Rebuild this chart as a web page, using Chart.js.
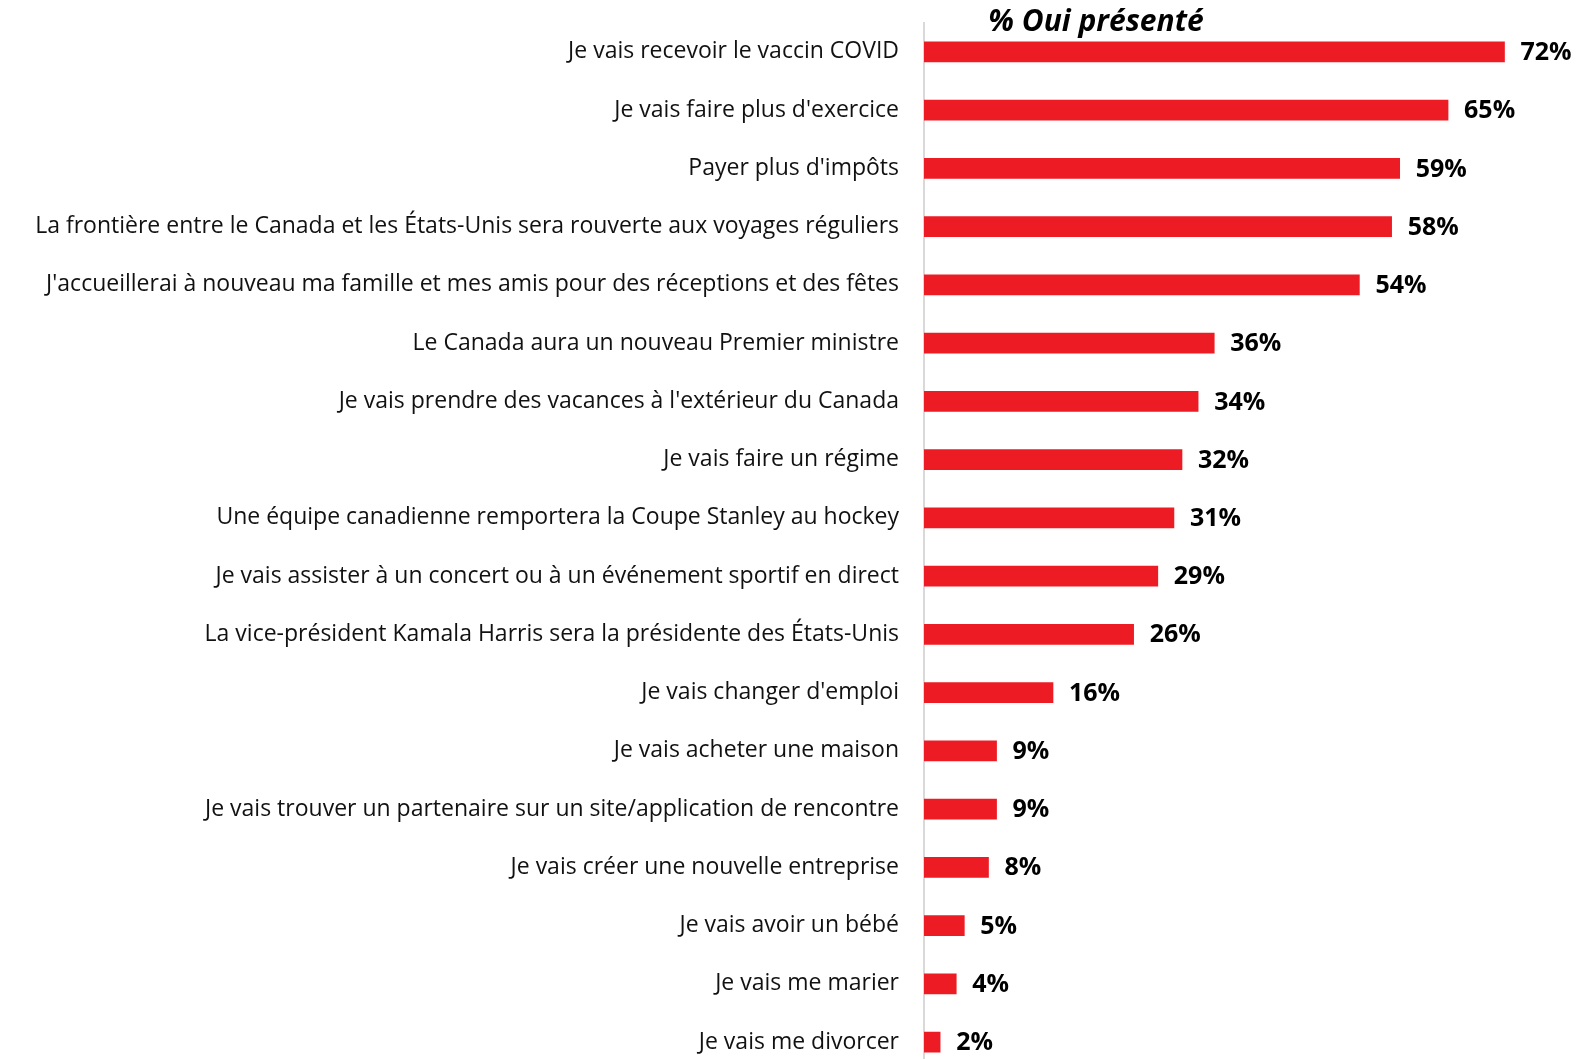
<!DOCTYPE html>
<html>
<head>
<meta charset="utf-8">
<script src="https://cdn.jsdelivr.net/npm/chart.js@4"></script>
<style>
    html, body { margin: 0; padding: 0; background: #fff; overflow: hidden; }
    #wrap { width: 1585px; height: 1110px; margin-top: -8px; }
</style>
</head>
<body>
<div id="wrap"><canvas id="chart" width="1585" height="1110"></canvas></div>
<script>
const categories = [
    'Je vais recevoir le vaccin COVID',
    "Je vais faire plus d'exercice",
    "Payer plus d'impôts",
    'La frontière entre le Canada et les États-Unis sera rouverte aux voyages réguliers',
    "J'accueillerai à nouveau ma famille et mes amis pour des réceptions et des fêtes",
    'Le Canada aura un nouveau Premier ministre',
    "Je vais prendre des vacances à l'extérieur du Canada",
    'Je vais faire un régime',
    'Une équipe canadienne remportera la Coupe Stanley au hockey',
    'Je vais assister à un concert ou à un événement sportif en direct',
    'La vice-président Kamala Harris sera la présidente des États-Unis',
    "Je vais changer d'emploi",
    'Je vais acheter une maison',
    'Je vais trouver un partenaire sur un site/application de rencontre',
    'Je vais créer une nouvelle entreprise',
    'Je vais avoir un bébé',
    'Je vais me marier',
    'Je vais me divorcer'
];
const ouiValues = [72, 65, 59, 58, 54, 36, 34, 32, 31, 29, 26, 16, 9, 9, 8, 5, 4, 2];
const chartTitle = '% Oui présenté';

// étiquettes de valeur au bout des barres + titre
const valueLabels = {
    id: 'valueLabels',
    afterDatasetsDraw(chart) {
        const ctx = chart.ctx;
        const meta = chart.getDatasetMeta(0);
        ctx.save();
        ctx.font = 'bold 25px "Open Sans"';
        ctx.fillStyle = '#000';
        ctx.textAlign = 'left';
        ctx.textBaseline = 'middle';
        meta.data.forEach((bar, i) => {
            ctx.fillText(ouiValues[i] + '%', bar.x + 16, bar.y + 1);
        });
        ctx.font = 'italic bold 30px "Open Sans"';
        ctx.textAlign = 'center';
        ctx.textBaseline = 'alphabetic';
        ctx.fillText(chartTitle, chart.chartArea.left + 172, 39);
        ctx.restore();
    }
};

const ctx = document.getElementById('chart').getContext('2d');
new Chart(ctx, {
    type: 'bar',
    data: {
        labels: categories,
        datasets: [{
            data: ouiValues,
            backgroundColor: '#ED1C24',
            barThickness: 20
        }]
    },
    options: {
        indexAxis: 'y',
        responsive: false,
        animation: false,
        layout: {
            padding: { top: 5, bottom: 9, right: 16, left: 0 }
        },
        scales: {
            x: {
                display: false,
                min: 0,
                max: 80
            },
            y: {
                grid: { display: false },
                border: { display: true, color: '#d9d9d9', width: 2 },
                ticks: {
                    color: '#111',
                    padding: 17,
                    font: { family: 'Open Sans', size: 23 }
                },
                afterFit(scale) {
                    scale.width = 924;
                }
            }
        },
        plugins: {
            legend: { display: false },
            tooltip: { enabled: false }
        }
    },
    plugins: [valueLabels]
});
</script>
</body>
</html>
